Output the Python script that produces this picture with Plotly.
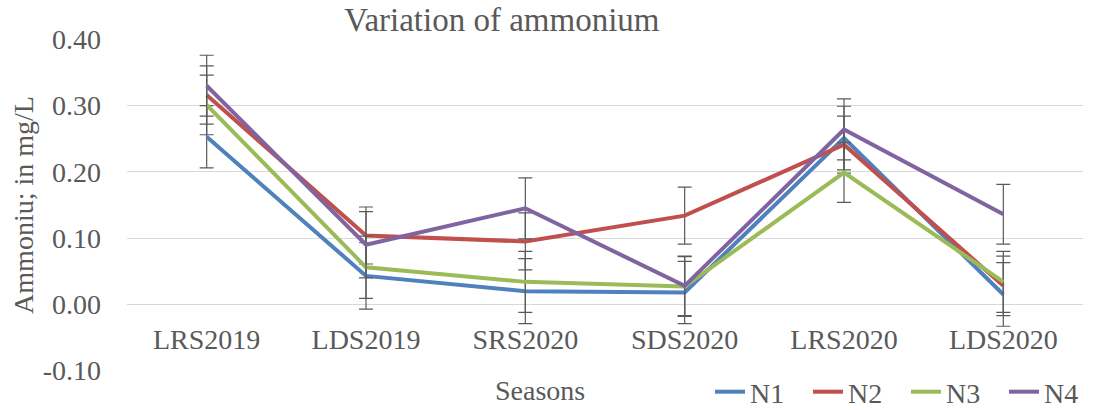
import plotly.graph_objects as go

seasons = ["LRS2019", "LDS2019", "SRS2020", "SDS2020", "LRS2020", "LDS2020"]
series_names = ["N1", "N2", "N3", "N4"]
n1 = [0.253, 0.043, 0.020, 0.018, 0.251, 0.015]
n2 = [0.316, 0.104, 0.095, 0.134, 0.241, 0.028]
n3 = [0.301, 0.056, 0.034, 0.027, 0.199, 0.034]
n4 = [0.330, 0.090, 0.145, 0.028, 0.264, 0.136]
err_n1 = [0.047, 0.050, 0.049, 0.047, 0.048, 0.048]
err_n2 = [0.044, 0.043, 0.043, 0.043, 0.043, 0.045]
err_n3 = [0.045, 0.047, 0.046, 0.045, 0.045, 0.046]
err_n4 = [0.046, 0.050, 0.046, 0.045, 0.046, 0.045]
ytick_vals = [-0.10, 0.00, 0.10, 0.20, 0.30, 0.40]
ytick_text = ["-0.10", "0.00", "0.10", "0.20", "0.30", "0.40"]

colors = ["#4F81BD", "#C0504D", "#9BBB59", "#8064A2"]
values = [n1, n2, n3, n4]
errors = [err_n1, err_n2, err_n3, err_n4]

FONT = "Liberation Serif, Times New Roman, serif"
TXT = "#595959"
FS = 28

fig = go.Figure()
for name, vals, errs, col in zip(series_names, values, errors, colors):
    fig.add_trace(go.Scatter(
        x=seasons, y=vals, name=name, mode="lines",
        line=dict(color=col, width=4),
        error_y=dict(type="data", array=errs, visible=True,
                     color="#5A5A5A", thickness=1.2, width=7),
    ))

fig.update_layout(
    width=1103, height=410,
    margin=dict(l=127, r=20, t=39, b=39, autoexpand=False),
    paper_bgcolor="white", plot_bgcolor="white",
    font=dict(family=FONT, color=TXT, size=FS),
    title=dict(text="Variation of ammonium", x=0.455, xanchor="center",
               y=1 - 19 / 410, yanchor="middle", yref="container",
               font=dict(family=FONT, size=33, color=TXT)),
    showlegend=True,
    legend=dict(orientation="h", x=(710 - 127) / 956, xanchor="left",
                y=-(392 - 371) / 332, yanchor="middle",
                font=dict(family=FONT, size=FS, color=TXT),
                bgcolor="rgba(0,0,0,0)", itemwidth=30, tracegroupgap=0,
                entrywidth=53, entrywidthmode="pixels"),
    xaxis=dict(type="category", range=[-0.5, 5.5], showgrid=False,
               showline=False, zeroline=False, ticks="",
               anchor="free", position=0.2, ticklabelstandoff=15,
               automargin=False,
               tickfont=dict(family=FONT, size=FS, color=TXT)),
    yaxis=dict(range=[-0.1005, 0.4005], tickvals=ytick_vals, ticktext=ytick_text,
               showgrid=True, gridcolor="#D9D9D9", gridwidth=1,
               zeroline=False, showline=False, ticks="", ticklabelstandoff=25,
               automargin=False,
               title=dict(text="Ammoniu; in mg/L", standoff=0,
                          font=dict(family=FONT, size=FS, color=TXT)),
               tickfont=dict(family=FONT, size=FS, color=TXT)),
)
fig.add_annotation(text="Seasons", xref="paper", yref="paper",
                   x=(540 - 127) / 956, y=-(390 - 371) / 332,
                   xanchor="center", yanchor="middle", showarrow=False,
                   font=dict(family=FONT, size=FS, color=TXT))

fig.write_html("out.html", config={"displayModeBar": False},
               post_script="document.body.style.margin='0';document.body.style.overflow='hidden';")
